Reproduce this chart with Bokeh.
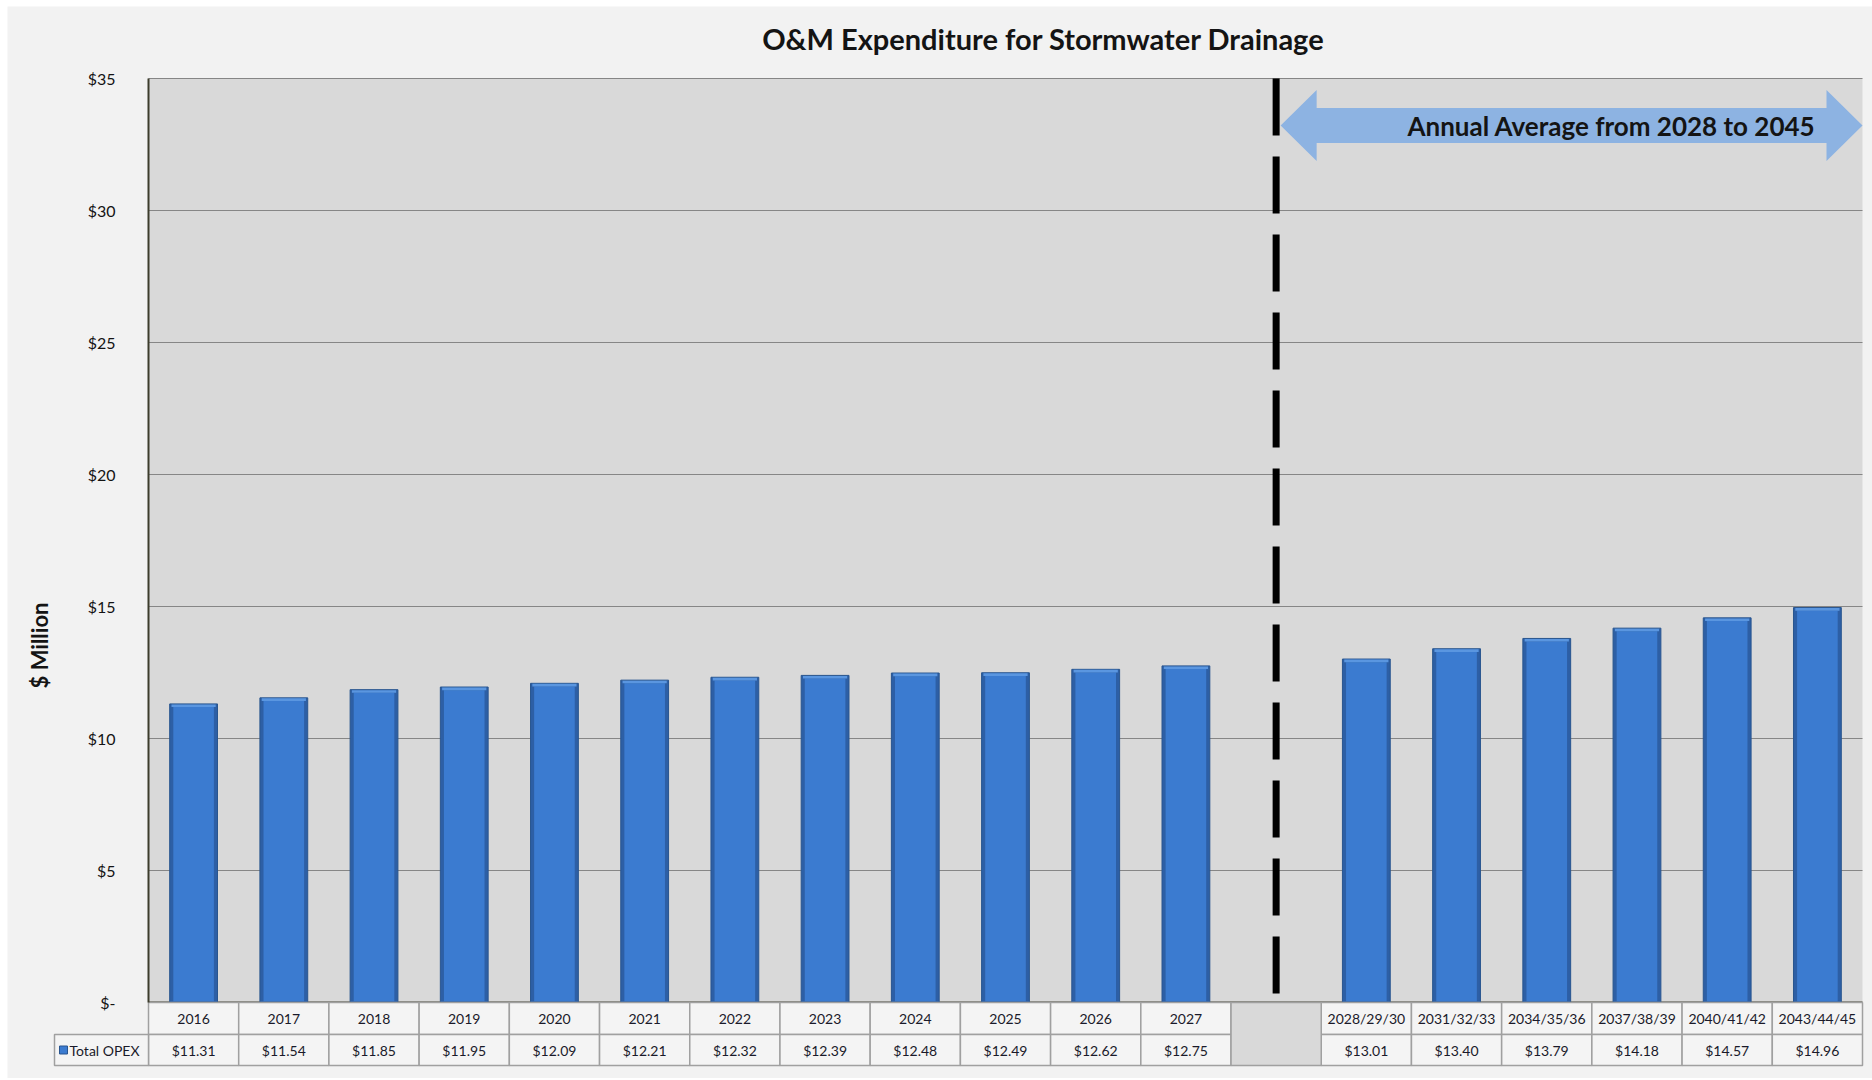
from bokeh.plotting import figure
from bokeh.models import Range1d, FixedTicker, LinearAxis, ColumnDataSource
from bokeh.embed import file_html
from bokeh.resources import INLINE
from bokeh.core.properties import value

# ---------------- data ----------------
periods_hist = ["2016", "2017", "2018", "2019", "2020", "2021", "2022", "2023",
                "2024", "2025", "2026", "2027"]
values_hist = [11.31, 11.54, 11.85, 11.95, 12.09, 12.21, 12.32, 12.39, 12.48,
               12.49, 12.62, 12.75]
periods_avg = ["2028/29/30", "2031/32/33", "2034/35/36", "2037/38/39",
               "2040/41/42", "2043/44/45"]
values_avg = [13.01, 13.40, 13.79, 14.18, 14.57, 14.96]
y_ticks = [0, 5, 10, 15, 20, 25, 30, 35]
y_tick_labels = {0: "$-", 5: "$5", 10: "$10", 15: "$15", 20: "$20",
                 25: "$25", 30: "$30", 35: "$35"}
series_name = "Total OPEX"
title_text = "O&M Expenditure for Stormwater Drainage"
arrow_text = "Annual Average from 2028 to 2045"
y_label = "$ Million"

# ---------------- layout helpers ----------------
periods = periods_hist + [""] + periods_avg          # empty column between the two parts
values = values_hist + [None] + values_avg
n = len(periods)
gap_idx = len(periods_hist)
xs = [i + 0.5 for i in range(n)]
bar_x = [xs[i] for i in range(n) if values[i] is not None]
bar_v = [values[i] for i in range(n) if values[i] is not None]
fmt_v = ["$%.2f" % v for v in bar_v]
y_max = y_ticks[-1]

# pixel geometry of the page (plot area 148..1862 x 78..1002)
PX_L, PX_R, PX_T, PX_B = 148, 1862, 78, 1002
U = (PX_R - PX_L) / n          # px per category
V = (PX_B - PX_T) / y_max      # px per $M
W, H = 1872, 1078


def dx(px):
    return (px - PX_L) / U


def dy(py):
    return (PX_B - py) / V


FONT = "Lato"
BG = "#f2f2f2"
TXT = "#141414"

p = figure(width=W, height=H, output_backend="svg", toolbar_location=None,
           x_range=Range1d(dx(0), dx(W)), y_range=Range1d(dy(H), dy(0)),
           x_axis_location=None, y_axis_location=None,
           min_border=0)
p.background_fill_color = "white"
p.border_fill_color = "white"
p.outline_line_color = None
p.grid.grid_line_color = None

# chart background and plot area
p.quad(left=dx(7), right=dx(W), bottom=dy(H), top=dy(6), fill_color=BG, line_color=None)
p.quad(left=0, right=n, bottom=0, top=y_max, fill_color="#d9d9d9", line_color=None)

# gridlines at the tick values
p.segment(x0=0, x1=n, y0=y_ticks[1:], y1=y_ticks[1:], line_color="#868686", line_width=1)
p.segment(x0=0, x1=n, y0=0, y1=0, line_color="#3c3c2c", line_width=2)

yax = LinearAxis(fixed_location=0, bounds=(0, y_max))
yax.ticker = FixedTicker(ticks=y_ticks)
yax.major_label_overrides = y_tick_labels
yax.major_label_text_font = FONT
yax.major_label_text_font_size = "16px"
yax.major_label_text_color = TXT
yax.major_label_standoff = 27
yax.major_tick_line_color = None
yax.minor_tick_line_color = None
yax.axis_line_color = "#3c3c2c"
yax.axis_line_width = 2
p.add_layout(yax, "left")

# bars: darker bevelled rim, lighter face, light top bevel
src = ColumnDataSource(dict(x=bar_x, top=bar_v))
p.vbar(x="x", top="top", bottom=0, width=0.53, source=src,
       fill_color="#2d5fa5", line_color="#28558f", line_width=1)
src_in = ColumnDataSource(dict(x=bar_x, top=[v - 0.12 for v in bar_v],
                               top2=[v - 0.02 for v in bar_v]))
p.vbar(x="x", top="top", bottom=0.05, width=0.45, source=src_in,
       fill_color="#3b7bd0", line_color=None)
p.vbar(x="x", top="top2", bottom="top", width=0.49, source=src_in,
       fill_color="#5a96e0", line_color=None)

# dashed divider between actual years and period averages
p.segment(x0=gap_idx + 0.5, x1=gap_idx + 0.5, y0=y_max, y1=0, line_color="black",
          line_width=7, line_dash="57 21")

# double-headed arrow over the averaged period
ax0 = gap_idx + 0.55
ax1 = n
ay = dy(125)
bh = 17.5 / V
hh = 35.5 / V
hl = 36 / U
p.patch(x=[ax0, ax0 + hl, ax0 + hl, ax1 - hl, ax1 - hl, ax1, ax1 - hl, ax1 - hl, ax0 + hl, ax0 + hl],
        y=[ay, ay + hh, ay + bh, ay + bh, ay + hh, ay, ay - hh, ay - bh, ay - bh, ay - hh],
        fill_color="#8db3e2", line_color=None)
p.text(x=[dx(1815)], y=[ay], text=[arrow_text], text_align="right",
       text_baseline="middle", text_font=value(FONT), text_font_style="bold",
       text_font_size="26px", text_color=TXT)

# title and y-axis label
p.text(x=[dx(1043)], y=[dy(38)], text=[title_text], text_align="center",
       text_baseline="middle", text_font=value(FONT), text_font_style="bold",
       text_font_size="29px", text_color=TXT)
p.text(x=[dx(39)], y=[dy(645)], text=[y_label], angle=1.5708, text_align="center",
       text_baseline="middle", text_font=value(FONT), text_font_style="bold",
       text_font_size="22px", text_color=TXT)

# ---------------- data table under the chart ----------------
r_top, r_mid, r_bot = dy(1002), dy(1034), dy(1065)
h1 = r_top - r_mid
h2 = r_mid - r_bot
c1 = (r_top + r_mid) / 2
c2 = (r_mid + r_bot) / 2
cell_x = [xs[i] for i in range(n) if i != gap_idx]
cell_lab = [periods[i] for i in range(n) if i != gap_idx]
LINE = "#a0a0a0"
CELL = "#f4f4f4"
p.rect(x=cell_x, y=c1, width=1, height=h1, fill_color=CELL, line_color=LINE, line_width=1.5)
p.rect(x=cell_x, y=c2, width=1, height=h2, fill_color=CELL, line_color=LINE, line_width=1.5)
p.rect(x=[xs[gap_idx]], y=(r_top + r_bot) / 2, width=1, height=r_top - r_bot,
       fill_color="#d9d9d9", line_color=LINE, line_width=1.5)
lx0 = dx(54)
p.rect(x=[lx0 / 2], y=c2, width=-lx0, height=h2, fill_color=CELL, line_color=LINE,
       line_width=1.5)
p.text(x=cell_x, y=c1, text=cell_lab, text_align="center", text_baseline="middle",
       text_font=value(FONT), text_font_size="14px", text_color="#1a1a2a")
p.text(x=bar_x, y=c2, text=fmt_v, text_align="center", text_baseline="middle",
       text_font=value(FONT), text_font_size="14px", text_color="#1a1a2a")
p.scatter(x=[dx(63)], y=[c2], marker="square", size=8, fill_color="#3b7bd0",
          line_color="#28558f")
p.text(x=[dx(69)], y=[c2], text=[series_name], text_align="left",
       text_baseline="middle", text_font=value(FONT), text_font_size="14px",
       text_color="#1a1a2a")

open("out.html", "w").write(file_html(p, INLINE))
